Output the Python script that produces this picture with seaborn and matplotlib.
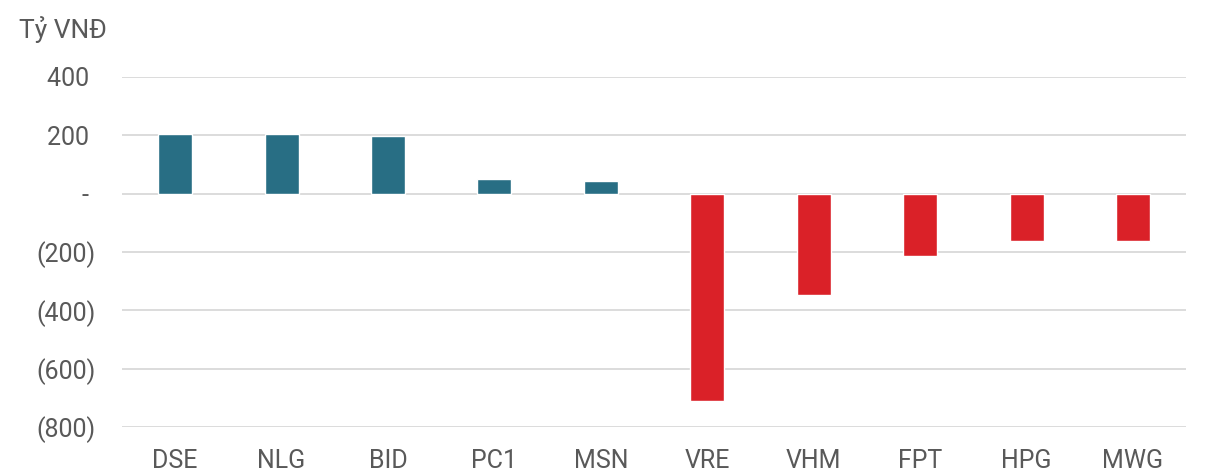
import pandas as pd
import seaborn as sns
import matplotlib.pyplot as plt
from matplotlib.ticker import FuncFormatter

# Giá trị mua/bán ròng (Tỷ VNĐ)
tickers = ['DSE', 'NLG', 'BID', 'PC1', 'MSN', 'VRE', 'VHM', 'FPT', 'HPG', 'MWG']
values = [204, 204, 197, 51, 44, -711, -347, -213, -162, -162]
y_ticks = [400, 200, 0, -200, -400, -600, -800]

df = pd.DataFrame({'ma': tickers, 'gia_tri': values})
df['chieu'] = ['mua' if v >= 0 else 'ban' for v in values]

sns.set_style('white')
plt.rcParams['font.family'] = ['Roboto', 'DejaVu Sans']

fig = plt.figure(figsize=(12.11, 4.74), dpi=100)
ax = fig.add_axes([0.1007, 0.0992, 0.8788, 0.7384])

sns.barplot(data=df, x='ma', y='gia_tri', hue='chieu', dodge=False,
            palette={'mua': '#286E84', 'ban': '#DA2128'}, width=0.32,
            saturation=1, legend=False, ax=ax)

ax.set_ylim(-800, 400)
ax.set_xlim(-0.5, len(tickers) - 0.5)
ax.set_yticks(y_ticks)


# định dạng kiểu kế toán: số âm trong ngoặc, 0 là "-"
def fmt(v, pos):
    if v == 0:
        return '- '
    if v < 0:
        return '(%d)' % abs(v)
    return '%d ' % v


ax.yaxis.set_major_formatter(FuncFormatter(fmt))
ax.grid(axis='y', color='#D9D9D9', linewidth=1.3)
ax.set_axisbelow(True)
for s in ax.spines.values():
    s.set_visible(False)
ax.tick_params(axis='both', length=0, labelsize=18, colors='#595959')
ax.tick_params(axis='y', pad=19)
ax.tick_params(axis='x', pad=16)
ax.set_xlabel('')
ax.set_ylabel('')

fig.text(0.016, 0.937, 'Tỷ VNĐ', fontsize=19, color='#595959', ha='left', va='center')

fig.savefig('out.png', dpi=100)
